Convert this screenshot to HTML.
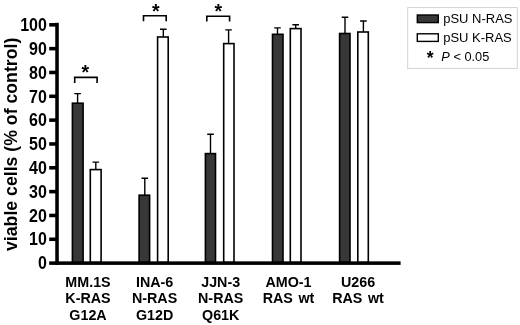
<!DOCTYPE html>
<html><head><meta charset="utf-8"><title>chart</title>
<style>
html,body{margin:0;padding:0;background:#fff;}
body{width:520px;height:325px;overflow:hidden;}
svg{display:block;}
text{font-family:"Liberation Sans",sans-serif;fill:#000;}
.b{font-weight:bold;}
</style></head><body>
<svg width="520" height="325" viewBox="0 0 520 325">
<rect width="520" height="325" fill="#fff"/>
<path d="M77.60 102.90V93.60M74.30 93.60H80.90" stroke="#000" stroke-width="1.4" fill="none"/>
<rect x="72.40" y="103.20" width="10.70" height="159.30" fill="#383838" stroke="#000" stroke-width="1.6"/>
<path d="M95.80 169.30V162.10M92.50 162.10H99.10" stroke="#000" stroke-width="1.4" fill="none"/>
<rect x="90.30" y="169.60" width="10.80" height="92.90" fill="#fff" stroke="#000" stroke-width="1.6"/>
<path d="M144.80 194.90V178.20M141.50 178.20H148.10" stroke="#000" stroke-width="1.4" fill="none"/>
<rect x="139.10" y="195.20" width="10.50" height="67.30" fill="#383838" stroke="#000" stroke-width="1.6"/>
<path d="M163.30 36.70V29.30M160.00 29.30H166.60" stroke="#000" stroke-width="1.4" fill="none"/>
<rect x="157.60" y="37.00" width="10.60" height="225.50" fill="#fff" stroke="#000" stroke-width="1.6"/>
<path d="M210.50 153.30V134.20M207.20 134.20H213.80" stroke="#000" stroke-width="1.4" fill="none"/>
<rect x="205.40" y="153.60" width="10.10" height="108.90" fill="#383838" stroke="#000" stroke-width="1.6"/>
<path d="M228.60 43.30V29.90M225.30 29.90H231.90" stroke="#000" stroke-width="1.4" fill="none"/>
<rect x="223.70" y="43.60" width="10.30" height="218.90" fill="#fff" stroke="#000" stroke-width="1.6"/>
<path d="M277.50 34.00V27.90M274.20 27.90H280.80" stroke="#000" stroke-width="1.4" fill="none"/>
<rect x="272.50" y="34.30" width="10.50" height="228.20" fill="#383838" stroke="#000" stroke-width="1.6"/>
<path d="M295.70 28.30V24.80M292.40 24.80H299.00" stroke="#000" stroke-width="1.4" fill="none"/>
<rect x="290.30" y="28.60" width="10.70" height="233.90" fill="#fff" stroke="#000" stroke-width="1.6"/>
<path d="M345.00 33.20V17.20M341.70 17.20H348.30" stroke="#000" stroke-width="1.4" fill="none"/>
<rect x="339.60" y="33.50" width="10.40" height="229.00" fill="#383838" stroke="#000" stroke-width="1.6"/>
<path d="M363.40 31.70V21.00M360.10 21.00H366.70" stroke="#000" stroke-width="1.4" fill="none"/>
<rect x="357.80" y="32.00" width="10.50" height="230.50" fill="#fff" stroke="#000" stroke-width="1.6"/>
<rect x="55.25" y="22.8" width="3.55" height="242.1" fill="#000"/>
<rect x="49.2" y="261.35" width="351.4" height="3.55" fill="#000"/>
<rect x="49.2" y="237.51" width="7" height="3.55" fill="#000"/>
<rect x="49.2" y="213.68" width="7" height="3.55" fill="#000"/>
<rect x="49.2" y="189.85" width="7" height="3.55" fill="#000"/>
<rect x="49.2" y="166.02" width="7" height="3.55" fill="#000"/>
<rect x="49.2" y="142.19" width="7" height="3.55" fill="#000"/>
<rect x="49.2" y="118.36" width="7" height="3.55" fill="#000"/>
<rect x="49.2" y="94.53" width="7" height="3.55" fill="#000"/>
<rect x="49.2" y="70.70" width="7" height="3.55" fill="#000"/>
<rect x="49.2" y="46.87" width="7" height="3.55" fill="#000"/>
<rect x="49.2" y="23.04" width="7" height="3.55" fill="#000"/>
<text class="b" transform="translate(46.9 269.32) scale(0.915 1)" font-size="17.5" text-anchor="end">0</text>
<text class="b" transform="translate(46.9 245.49) scale(0.915 1)" font-size="17.5" text-anchor="end">10</text>
<text class="b" transform="translate(46.9 221.66) scale(0.915 1)" font-size="17.5" text-anchor="end">20</text>
<text class="b" transform="translate(46.9 197.83) scale(0.915 1)" font-size="17.5" text-anchor="end">30</text>
<text class="b" transform="translate(46.9 174.00) scale(0.915 1)" font-size="17.5" text-anchor="end">40</text>
<text class="b" transform="translate(46.9 150.17) scale(0.915 1)" font-size="17.5" text-anchor="end">50</text>
<text class="b" transform="translate(46.9 126.34) scale(0.915 1)" font-size="17.5" text-anchor="end">60</text>
<text class="b" transform="translate(46.9 102.51) scale(0.915 1)" font-size="17.5" text-anchor="end">70</text>
<text class="b" transform="translate(46.9 78.68) scale(0.915 1)" font-size="17.5" text-anchor="end">80</text>
<text class="b" transform="translate(46.9 54.85) scale(0.915 1)" font-size="17.5" text-anchor="end">90</text>
<text class="b" transform="translate(46.9 31.02) scale(0.915 1)" font-size="17.5" text-anchor="end">100</text>
<text class="b" transform="translate(16.5 251) rotate(-90)" font-size="17.7">viable cells (% of control)</text>
<text class="b" x="88" y="287.2" font-size="14.3" text-anchor="middle">MM.1S</text>
<text class="b" x="88" y="303.3" font-size="14.3" text-anchor="middle">K-RAS</text>
<text class="b" x="88" y="319.8" font-size="14.3" text-anchor="middle">G12A</text>
<text class="b" x="154.6" y="287.2" font-size="14.3" text-anchor="middle">INA-6</text>
<text class="b" x="154.6" y="303.3" font-size="14.3" text-anchor="middle">N-RAS</text>
<text class="b" x="154.6" y="319.8" font-size="14.3" text-anchor="middle">G12D</text>
<text class="b" x="220.7" y="287.2" font-size="14.3" text-anchor="middle">JJN-3</text>
<text class="b" x="220.7" y="303.3" font-size="14.3" text-anchor="middle">N-RAS</text>
<text class="b" x="220.7" y="319.8" font-size="14.3" text-anchor="middle">Q61K</text>
<text class="b" x="288.5" y="287.2" font-size="14.3" text-anchor="middle">AMO-1</text>
<text class="b" x="288.5" y="303.3" font-size="14.3" text-anchor="middle" word-spacing="1.6">RAS wt</text>
<text class="b" x="358" y="287.2" font-size="14.3" text-anchor="middle">U266</text>
<text class="b" x="358" y="303.3" font-size="14.3" text-anchor="middle" word-spacing="1.6">RAS wt</text>
<path d="M74.7 83V77.35H97.1V83" stroke="#000" stroke-width="1.6" fill="none"/>
<text class="b" x="85.4" y="78.70" font-size="19.6" text-anchor="middle">*</text>
<path d="M143.5 21.3V15.75H166.2V21.3" stroke="#000" stroke-width="1.6" fill="none"/>
<text class="b" x="155.9" y="18.30" font-size="19.6" text-anchor="middle">*</text>
<path d="M206.8 21.6V16.3H229.6V21.6" stroke="#000" stroke-width="1.6" fill="none"/>
<text class="b" x="218.2" y="18.35" font-size="19.6" text-anchor="middle">*</text>
<rect x="407.7" y="7.6" width="109.6" height="61" fill="#fff" stroke="#cfcfcf" stroke-width="0.9"/>
<rect x="417.3" y="15" width="21" height="7.6" fill="#383838" stroke="#000" stroke-width="1.4"/>
<rect x="417.3" y="33.8" width="21" height="7.6" fill="#fff" stroke="#000" stroke-width="1.4"/>
<text transform="translate(443.2 22.85) scale(0.97 1)" font-size="13.4">pSU N-RAS</text>
<text transform="translate(443.2 41.8) scale(0.97 1)" font-size="13.4">pSU K-RAS</text>
<text class="b" x="430.1" y="64.0" font-size="17.5" text-anchor="middle">*</text>
<text transform="translate(441.3 61.4) scale(0.955 1)" font-size="13.4"><tspan font-style="italic">P</tspan> &lt; 0.05</text>
</svg>
</body></html>
